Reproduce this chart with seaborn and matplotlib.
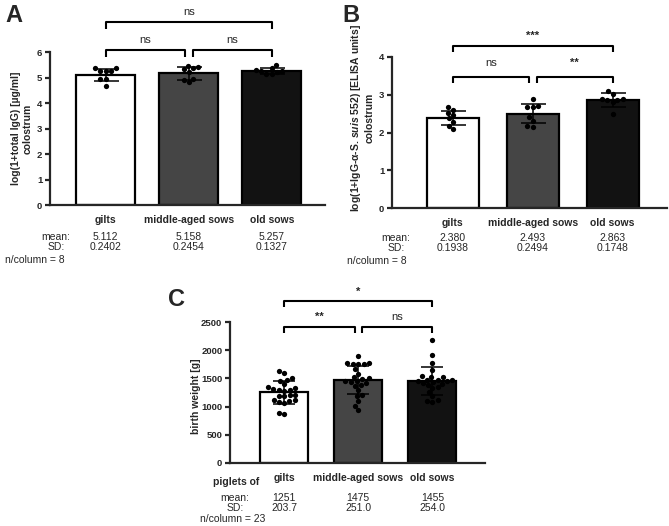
import numpy as np
import pandas as pd
import matplotlib.pyplot as plt
from matplotlib import transforms
import seaborn as sns

sns.set_style("ticks")
plt.rcParams["font.family"] = ["Liberation Sans", "DejaVu Sans"]
plt.rcParams["mathtext.fontset"] = "custom"
plt.rcParams["mathtext.rm"] = "Liberation Sans:bold"
plt.rcParams["mathtext.it"] = "Liberation Sans:italic:bold"

groups = ["gilts", "middle-aged sows", "old sows"]
bar_colors = ["#ffffff", "#454545", "#121212"]

# A - log(1+total IgG) in colostrum, n = 8 per group
igg_gilts = [5.36, 5.38, 5.25, 5.26, 5.24, 4.95, 4.93, 4.67]
igg_middle = [5.46, 5.42, 5.36, 5.33, 5.23, 4.94, 4.90, 4.83]
igg_old = [5.48, 5.36, 5.30, 5.27, 5.24, 5.14, 5.12, 5.20]
igg_mean = [5.112, 5.158, 5.257]
igg_sd = [0.2402, 0.2454, 0.1327]
igg_sig = ["ns", "ns", "ns"]  # gilts-middle, middle-old, gilts-old

# B - log(1+IgG-a-S. suis 552), n = 8 per group
suis_gilts = [2.68, 2.60, 2.52, 2.46, 2.38, 2.29, 2.17, 2.08]
suis_middle = [2.89, 2.70, 2.68, 2.67, 2.42, 2.31, 2.17, 2.15]
suis_old = [3.10, 3.02, 2.90, 2.88, 2.87, 2.85, 2.80, 2.50]
suis_mean = [2.380, 2.493, 2.863]
suis_sd = [0.1938, 0.2494, 0.1748]
suis_sig = ["ns", "**", "***"]

# C - piglet birth weight [g], n = 23 per group
bw_gilts = [1640, 1590, 1500, 1480, 1460, 1400, 1340, 1330, 1320, 1300, 1290, 1280,
            1210, 1200, 1190, 1180, 1120, 1110, 1100, 1080, 1060, 880, 870]
bw_middle = [1900, 1780, 1770, 1760, 1760, 1750, 1660, 1580, 1520, 1500, 1490, 1460,
             1450, 1440, 1420, 1380, 1370, 1300, 1200, 1190, 1100, 1010, 940]
bw_old = [2180, 1920, 1770, 1650, 1540, 1530, 1520, 1480, 1470, 1470, 1460, 1450,
          1440, 1410, 1400, 1390, 1340, 1330, 1260, 1190, 1110, 1100, 1090]
bw_mean = [1251, 1475, 1455]
bw_sd = [203.7, 251.0, 254.0]
bw_sig = ["**", "ns", "*"]

W, H = 669, 526
fig = plt.figure(figsize=(W / 100, H / 100), dpi=100)


def fy(py):
    # pixel row -> figure fraction
    return 1 - py / H


def draw_panel(rect, samples, means, sds, width, xlim, ylim, ytop, yticks,
               ylabel, ylab_pos, br, stats, mean_fmt, sd_fmt, n_text, cap=9):
    ax = fig.add_axes(rect)
    sns.barplot(x=groups, y=means, hue=groups, palette=bar_colors, legend=False,
                errorbar=None, width=width, edgecolor="black", linewidth=1.6,
                ax=ax, zorder=1)
    ax.errorbar(range(3), means, yerr=sds, fmt="none", ecolor="black",
                elinewidth=1.1, capsize=cap, capthick=1.1, zorder=2)
    df = pd.DataFrame({"group": np.repeat(groups, [len(s) for s in samples]),
                       "value": np.concatenate(samples)})
    sns.swarmplot(data=df, x="group", y="value", order=groups, color="black",
                  size=3.8, ax=ax, zorder=3)

    ax.set_xlim(*xlim)
    ax.set_ylim(0, ylim)
    ax.set_yticks(yticks)
    ax.spines[["top", "right"]].set_visible(False)
    ax.spines["left"].set_bounds(0, ytop)
    for s in ["left", "bottom"]:
        ax.spines[s].set_linewidth(1.6)
    ax.tick_params(axis="x", length=0, pad=7, labelsize=7.5)
    ax.tick_params(axis="y", length=3.5, width=1.6, pad=2, labelsize=6.8)
    for t in ax.get_xticklabels() + ax.get_yticklabels():
        t.set_fontweight("bold")
    ax.set_xlabel("")
    ax.set_ylabel(ylabel, fontsize=7.5, fontweight="bold", linespacing=1.25)
    ax.yaxis.set_label_coords(*ylab_pos)

    # significance brackets: (x1, x2, y, leg, text, text_y)
    for x1, x2, y, leg, txt, ty in br:
        ax.plot([x1, x1, x2, x2], [y - leg, y, y, y - leg], color="black",
                lw=1.5, solid_capstyle="butt", clip_on=False)
        ax.text((x1 + x2) / 2, ty, txt, ha="center", va="center", fontsize=8,
                fontweight="bold" if "*" in txt else "normal")

    # descriptive statistics rows under the axis
    trans = transforms.blended_transform_factory(ax.transData, fig.transFigure)
    lab_x, mean_y, sd_y, n_x, n_y = stats
    ax.text(lab_x, fy(mean_y), "mean:", transform=fig.transFigure,
            ha="right", va="center", fontsize=7.5)
    ax.text(lab_x - 0.008, fy(sd_y), "SD:", transform=fig.transFigure,
            ha="right", va="center", fontsize=7.5)
    ax.text(n_x, fy(n_y), n_text, transform=fig.transFigure,
            ha="left", va="center", fontsize=7.5)
    for i in range(3):
        ax.text(i, fy(mean_y), mean_fmt.format(means[i]), transform=trans,
                ha="center", va="center", fontsize=7.5)
        ax.text(i, fy(sd_y), sd_fmt.format(sds[i]), transform=trans,
                ha="center", va="center", fontsize=7.5)
    return ax


# panel A
draw_panel([50 / W, fy(205), 275 / W, 200 / H],
           [igg_gilts, igg_middle, igg_old], igg_mean, igg_sd, 0.71,
           (-0.67, 2.64), 200 / 25.5, 6, range(0, 7),
           "log(1+total IgG) [µg/ml]\ncolostrum", (-0.062, 3 * 25.5 / 200),
           [(0, 0.95, 6.08, 0.28, igg_sig[0], 6.47),
            (1.05, 2, 6.08, 0.28, igg_sig[1], 6.47),
            (0, 2, 7.18, 0.28, igg_sig[2], 7.57)],
           (70 / W, 237, 247, 5 / W, 260), "{:.3f}", "{:.4f}", "n/column = 8")

# panel B
draw_panel([392 / W, fy(208), 275 / W, 188 / H],
           [suis_gilts, suis_middle, suis_old], suis_mean, suis_sd, 0.65,
           (-0.76, 2.68), 188 / 37.75, 4, range(0, 5),
           "log(1+IgG-α-S. $\\it{suis}$ 552) [ELISA units]\ncolostrum",
           (-0.062, (208 - 118) / 188),
           [(0, 0.95, 3.47, 0.16, suis_sig[0], 3.84),
            (1.05, 2, 3.47, 0.16, suis_sig[1], 3.84),
            (0, 2, 4.29, 0.16, suis_sig[2], 4.56)],
           (410 / W, 238, 248, 347 / W, 261), "{:.3f}", "{:.4f}", "n/column = 8")

# panel C
draw_panel([230 / W, fy(463), 255 / W, 178 / H],
           [bw_gilts, bw_middle, bw_old], bw_mean, bw_sd, 0.65,
           (-0.73, 2.71), 178 / 0.0564, 2500, range(0, 2501, 500),
           "birth weight [g]", (-0.115, (463 - 396) / 178),
           [(0, 0.95, 2406, 106, bw_sig[0], 2594),
            (1.05, 2, 2406, 106, bw_sig[1], 2594),
            (0, 2, 2878, 106, bw_sig[2], 3037)],
           (249 / W, 498, 508, 200 / W, 519), "{:.0f}", "{:.1f}", "n/column = 23",
           cap=8)
fig.text(213 / W, fy(482), "piglets of", ha="left", va="center",
         fontsize=7.5, fontweight="bold")

for lab, x, y in [("A", 5, 4), ("B", 342, 4), ("C", 168, 288)]:
    fig.text(x / W, fy(y), lab, ha="left", va="top", fontsize=17, fontweight="bold")

fig.savefig("out.png", dpi=100)
